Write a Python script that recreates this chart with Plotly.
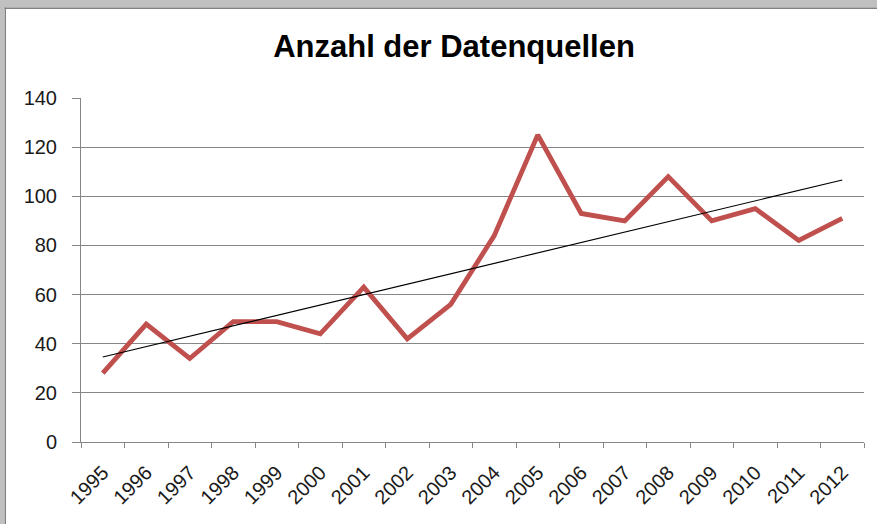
import numpy as np
import plotly.graph_objects as go

years = [str(y) for y in range(1995, 2013)]
values = [28, 48, 34, 49, 49, 44, 63, 42, 56, 84, 125, 93, 90, 108, 90, 95, 82, 91]
y_ticks = [0, 20, 40, 60, 80, 100, 120, 140]
title_text = "Anzahl der Datenquellen"

# linear trend line (least squares) computed from the data
idx = np.arange(len(values))
slope, intercept = np.polyfit(idx, values, 1)
trend = (slope * idx + intercept).tolist()

W, H = 877, 524
L, R, T, B = 81, 864, 98, 442  # plot area in pixels

def px(x):
    return (x - L) / (R - L)

def py(y):
    return (B - y) / (B - T)

fig = go.Figure()
fig.add_trace(go.Scatter(x=years, y=values, mode="lines",
                         line=dict(color="#c0504d", width=4.8),
                         showlegend=False, hoverinfo="x+y"))
fig.add_trace(go.Scatter(x=years, y=trend, mode="lines",
                         line=dict(color="#000000", width=1.2),
                         showlegend=False, hoverinfo="skip"))

shapes = [
    # grey frame (top band and left band)
    dict(type="rect", xref="paper", yref="paper", x0=px(0), x1=px(W), y0=py(0), y1=py(7.5),
         fillcolor="#c0c0c0", line=dict(width=0), layer="below"),
    dict(type="rect", xref="paper", yref="paper", x0=px(0), x1=px(4.7), y0=py(0), y1=py(H),
         fillcolor="#c0c0c0", line=dict(width=0), layer="below"),
    dict(type="rect", xref="paper", yref="paper", x0=px(4.7), x1=px(W), y0=py(7.5), y1=py(9),
         fillcolor="#808080", line=dict(width=0), layer="below"),
    dict(type="rect", xref="paper", yref="paper", x0=px(4.7), x1=px(6), y0=py(7.5), y1=py(H),
         fillcolor="#808080", line=dict(width=0), layer="below"),
]

fig.update_layout(
    width=W, height=H,
    margin=dict(l=L, r=W - R, t=T, b=H - B, pad=0),
    paper_bgcolor="white", plot_bgcolor="white",
    title=dict(text="<b>" + title_text + "</b>", x=px(454), xref="paper", xanchor="center",
               y=1 - 46 / H, yref="container", yanchor="middle",
               font=dict(family="Liberation Sans Narrow, Arial Narrow, Liberation Sans, sans-serif",
                         size=31, color="#000000")),
    shapes=shapes,
    font=dict(family="Liberation Sans, Arial, sans-serif", size=20, color="#1a1a1a"),
)
fig.update_xaxes(type="category", range=[-0.5, 17.5], tickson="boundaries",
                 showline=True, linecolor="#868686", linewidth=1,
                 ticks="outside", ticklen=5, tickcolor="#868686", tickwidth=1,
                 tickangle=-45, showgrid=False, zeroline=False,
                 ticklabelstandoff=10,
                 tickfont=dict(size=20, color="#1a1a1a"))
fig.update_yaxes(range=[0, 140], tickvals=y_ticks, ticktext=[str(v) for v in y_ticks],
                 showline=True, linecolor="#868686", linewidth=1,
                 ticks="outside", ticklen=8, tickcolor="#868686", tickwidth=1,
                 showgrid=True, gridcolor="#868686", gridwidth=1, zeroline=False,
                 ticklabelstandoff=11,
                 tickfont=dict(size=20, color="#1a1a1a"))

fig.write_html("out.html", config={"displayModeBar": False},
               post_script="document.body.style.margin='0';document.body.style.padding='0';")
